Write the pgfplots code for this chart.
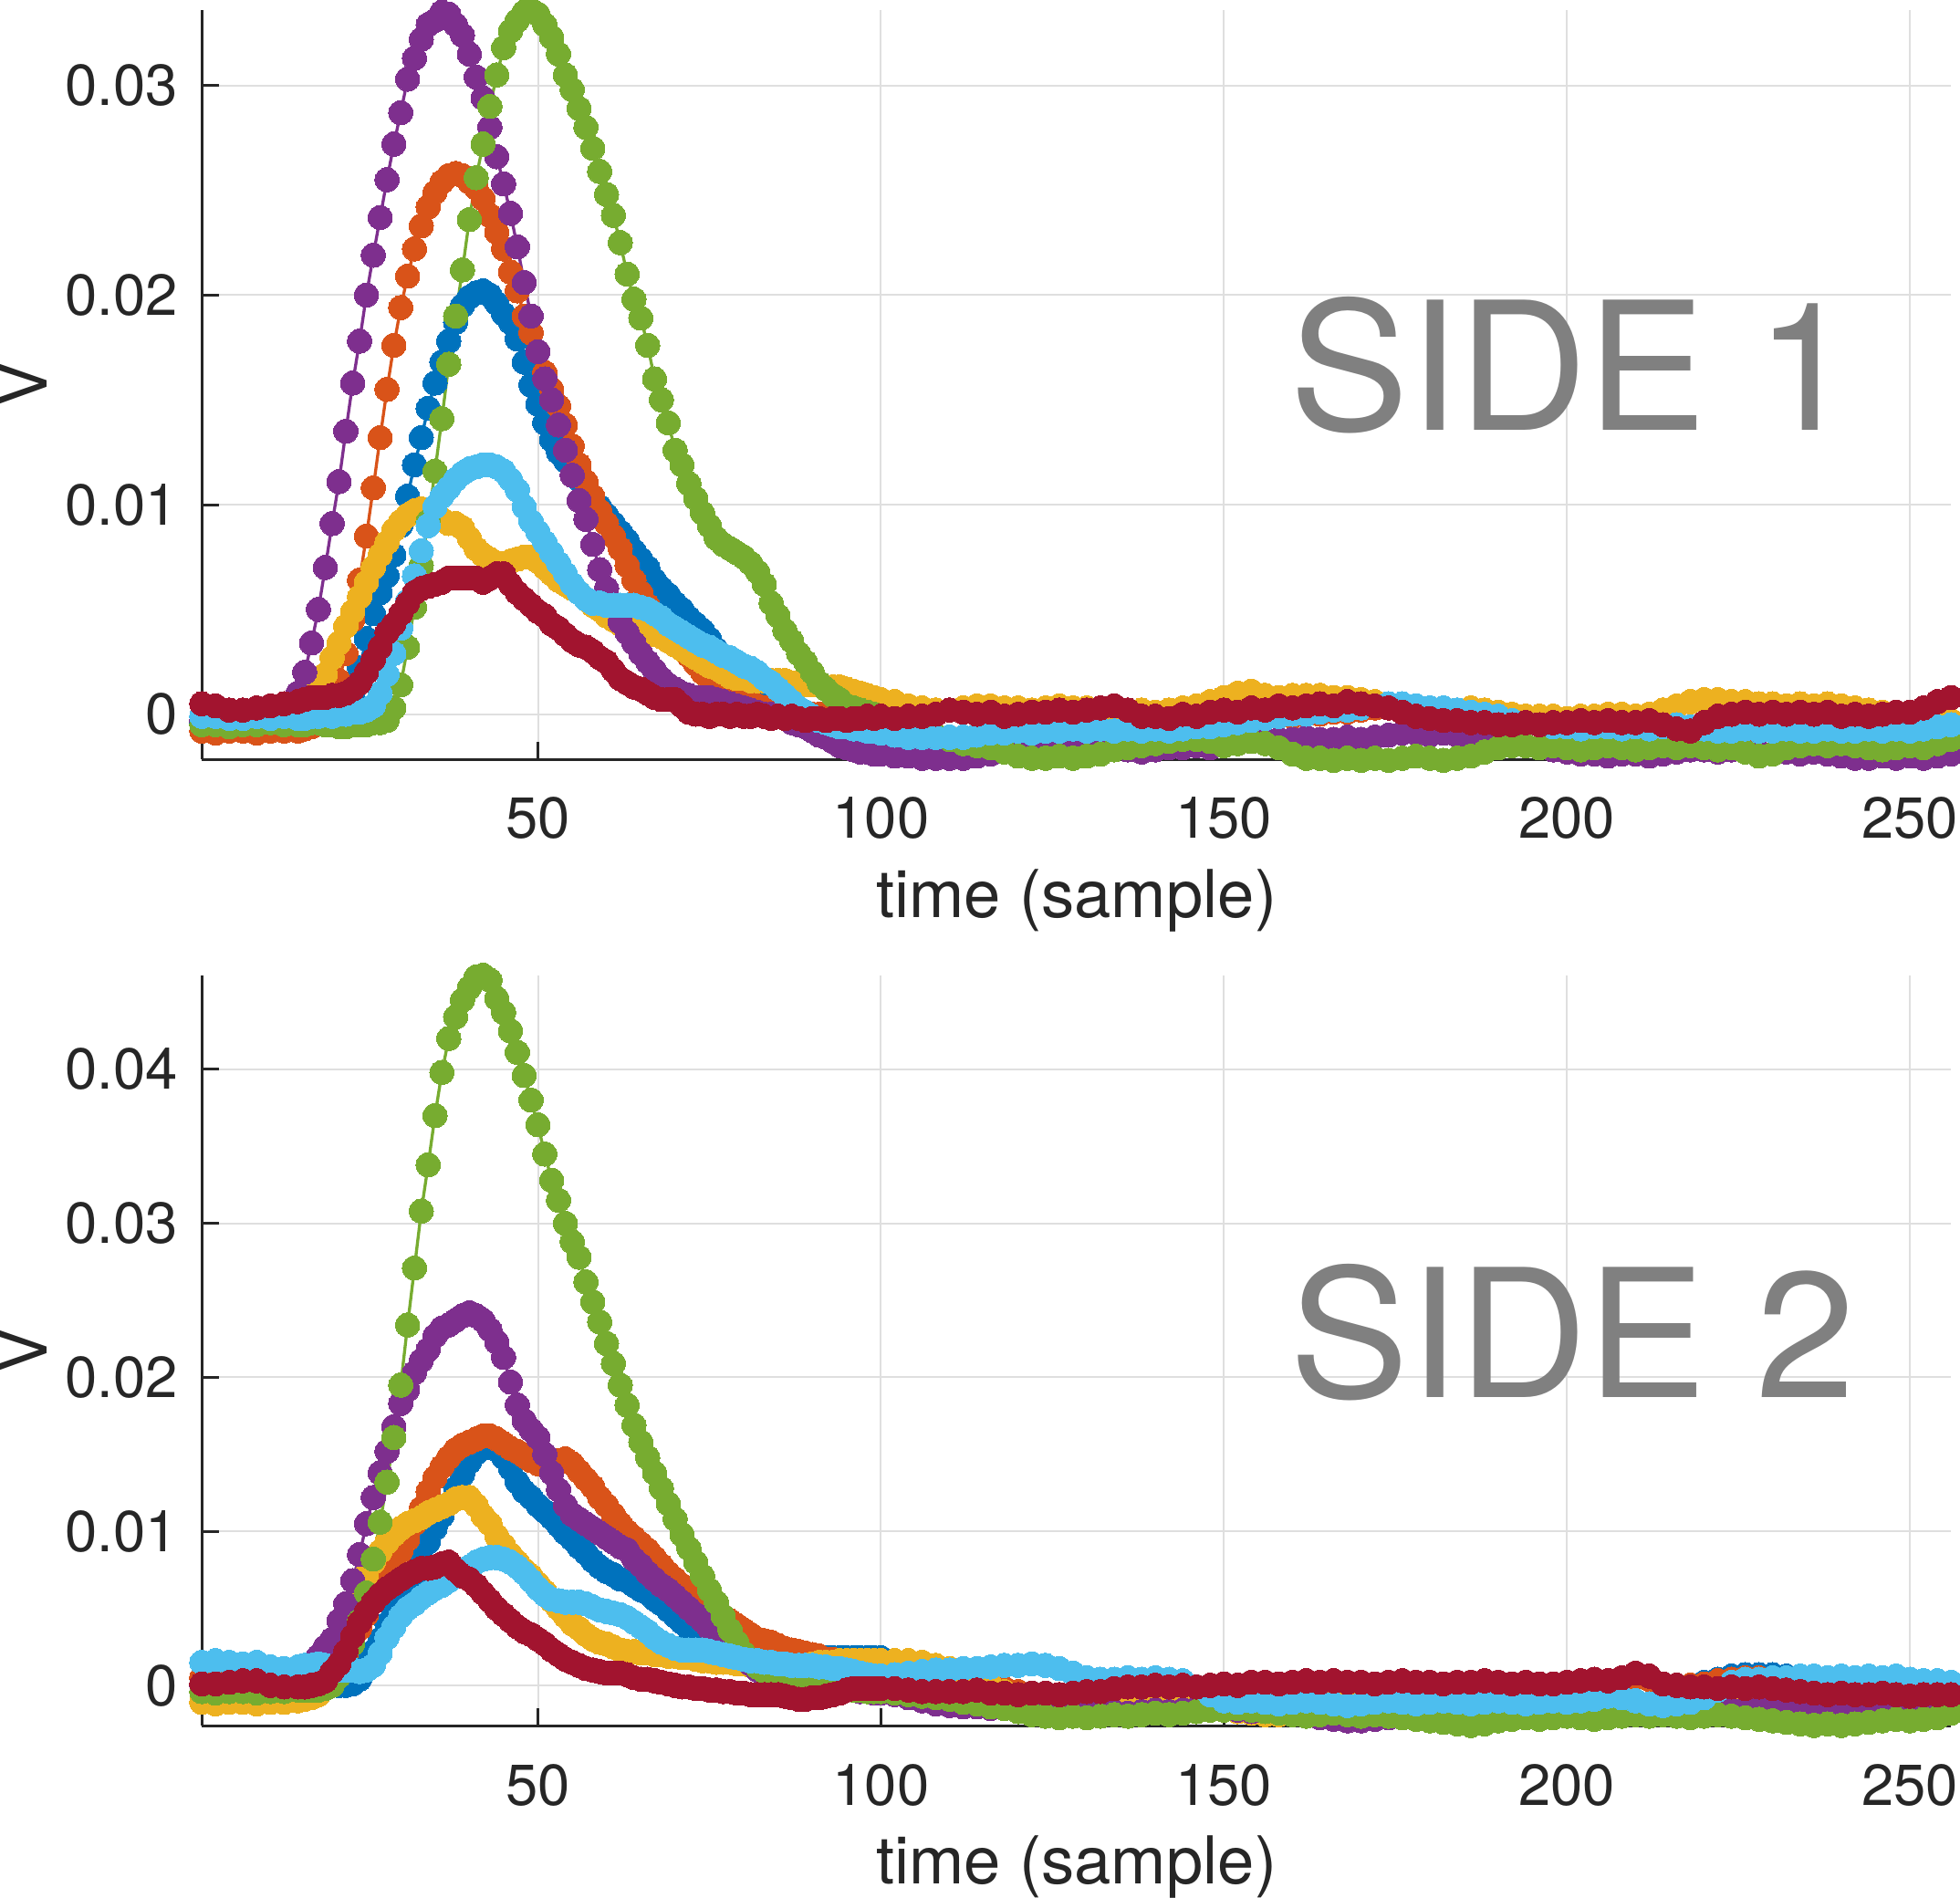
\documentclass[border=0pt]{standalone}
\usepackage{fontspec}
\setmainfont{TeX Gyre Heros}
\usepackage{pgfplots}
\pgfplotsset{compat=1.18}
\definecolor{mblue}{RGB}{0,114,189}
\definecolor{morange}{RGB}{217,83,25}
\definecolor{myellow}{RGB}{237,177,32}
\definecolor{mpurple}{RGB}{126,47,142}
\definecolor{mgreen}{RGB}{119,172,48}
\definecolor{mlblue}{RGB}{77,190,238}
\definecolor{mred}{RGB}{162,20,47}
\definecolor{axgray}{RGB}{38,38,38}
\definecolor{gridgray}{RGB}{223,223,223}
\definecolor{sidegray}{RGB}{128,128,128}
\pgfplotsset{
  dot/.style={color=#1, line width=0.85pt, mark=*, mark size=3.4pt, mark options={line width=0pt, fill=#1, draw=#1}},
  panel/.style={
    scale only axis, width=489.8pt, anchor=south west,
    xmin=1, xmax=256,
    axis x line*=bottom, axis y line*=left,
    axis line style={line width=0.75pt, draw=axgray},
    tick align=inside, major tick length=4.85pt,
    tick style={line width=0.75pt, draw=axgray},
    grid=major, major grid style={line width=0.5pt, draw=gridgray},
    scaled y ticks=false, scaled x ticks=false,
    xtick={50,100,150,200,250}, xticklabels={50,100,150,200,250},
    xticklabel style={font=\fontsize{16.2}{16.2}\selectfont, text=axgray, inner sep=0pt, anchor=north, yshift=-10.5pt},
    yticklabel style={font=\fontsize{16.2}{16.2}\selectfont, text=axgray, inner sep=0pt, anchor=east, xshift=-6.5pt},
    clip=false,
  }
}
\begin{document}
\begin{tikzpicture}
\useasboundingbox (0,0) rectangle (548.8pt,531.2pt);
% ---------------- SIDE 1 ----------------
\begin{axis}[panel, at={(56.5pt,318.6pt)}, height=209.8pt,
  ymin=-0.00215, ymax=0.0336,
  ytick={0,0.01,0.02,0.03}, yticklabels={0,0.01,0.02,0.03}]
\addplot[dot=mblue] coordinates {(1,-0.0004)(3,-0.0004)(5,-0.0005)(7,-0.0004)(9,-0.0004)(11,-0.0004)(13,-0.0003)(15,-0.0004)
(16,-0.0004)(17,-0.0004)(18,-0.0003)(19,-0.0003)(20,-0.0003)(21,-0.0002)(22,0.0002)(23,0.0010)(24,0.0022)(25,0.0036)(26,0.0048)(27,0.0058)(28,0.0066)(29,0.0076)(30,0.0090)
(31,0.0104)(32,0.0119)(33,0.0132)(34,0.0146)(35,0.0158)(36,0.0168)(37,0.0178)(38,0.0187)(39,0.0195)(40,0.0199)
(41,0.0201)(42,0.0202)(43,0.0200)(44,0.0196)(45,0.0191)(46,0.0187)(47,0.0179)(48,0.0168)(49,0.0157)(50,0.0148)
(51,0.0139)(52,0.0131)(53,0.0125)(54,0.0121)(55,0.0117)(56,0.0112)(57,0.0108)(58,0.0103)(59,0.0099)(60,0.0095)
(61,0.0091)(62,0.0087)(63,0.0083)(64,0.0078)(65,0.0074)(66,0.0070)(67,0.0064)(68,0.0060)(69,0.0057)(70,0.0053)
(71,0.0050)(72,0.0046)(73,0.0043)(74,0.0040)(75,0.0036)(76,0.0031)(77,0.0026)(78,0.0019)(79,0.0014)(80,0.0010)
(81,0.0008)(82,0.0007)(83,0.0006)(84,0.0005)(85,0.0003)(86,0.0002)(87,0.0001)(88,0.0001)(89,0.0000)(90,0.0000)
(91,-0.0001)(92,-0.0001)(93,-0.0001)(94,-0.0001)(95,-0.0002)(96,-0.0002)(97,-0.0003)(98,-0.0003)(99,-0.0003)(100,-0.0004)
(102,-0.0006)(104,-0.0008)(106,-0.0010)(108,-0.0011)(110,-0.0011)(112,-0.0011)(114,-0.0010)(116,-0.0010)(118,-0.0009)(120,-0.0009)(122,-0.0009)(124,-0.0009)(126,-0.0008)(128,-0.0008)(130,-0.0008)(132,-0.0008)(134,-0.0008)(136,-0.0008)(138,-0.0008)(140,-0.0008)(142,-0.0008)(144,-0.0007)(146,-0.0007)(148,-0.0006)(150,-0.0005)(152,-0.0004)(154,-0.0003)(156,-0.0002)(158,-0.0001)(160,-0.0001)(162,0.0000)(164,0.0000)(166,0.0001)(168,0.0001)(170,0.0002)(172,0.0003)(174,0.0003)(176,0.0003)(178,0.0003)(180,0.0002)(182,0.0002)(184,0.0001)(186,0.0000)(188,-0.0001)(190,-0.0002)(192,-0.0003)(194,-0.0004)(196,-0.0005)(198,-0.0006)(200,-0.0006)(202,-0.0007)(204,-0.0007)(206,-0.0007)(208,-0.0007)(210,-0.0007)(212,-0.0007)(214,-0.0006)(216,-0.0006)(218,-0.0007)(220,-0.0008)(222,-0.0008)(224,-0.0008)(226,-0.0008)(228,-0.0008)(230,-0.0008)(232,-0.0008)(234,-0.0008)(236,-0.0008)(238,-0.0008)(240,-0.0008)(242,-0.0008)(244,-0.0008)(246,-0.0008)(248,-0.0008)(250,-0.0008)(252,-0.0008)(254,-0.0007)(256,-0.0006)};
\addplot[dot=morange] coordinates {(1,-0.0008)(3,-0.0009)(5,-0.0008)(7,-0.0008)(9,-0.0009)(11,-0.0008)(13,-0.0008)(15,-0.0008)
(16,-0.0007)(17,-0.0006)(18,-0.0004)(19,-0.0001)(20,0.0006)(21,0.0016)(22,0.0029)(23,0.0045)(24,0.0064)(25,0.0085)(26,0.0108)(27,0.0132)(28,0.0155)(29,0.0176)(30,0.0194)
(31,0.0209)(32,0.0222)(33,0.0233)(34,0.0242)(35,0.0249)(36,0.0254)(37,0.0257)(38,0.0258)(39,0.0257)(40,0.0254)
(41,0.0251)(42,0.0246)(43,0.0238)(44,0.0230)(45,0.0222)(46,0.0211)(47,0.0202)(48,0.0190)(49,0.0182)(50,0.0173)
(51,0.0163)(52,0.0155)(53,0.0147)(54,0.0138)(55,0.0128)(56,0.0119)(57,0.0111)(58,0.0104)(59,0.0097)(60,0.0091)
(61,0.0085)(62,0.0079)(63,0.0071)(64,0.0064)(65,0.0058)(66,0.0052)(67,0.0047)(68,0.0042)(69,0.0038)(70,0.0034)
(71,0.0031)(72,0.0028)(73,0.0024)(74,0.0020)(75,0.0017)(76,0.0014)(77,0.0012)(78,0.0010)(79,0.0008)(80,0.0006)
(81,0.0005)(82,0.0004)(83,0.0003)(84,0.0003)(85,0.0002)(86,0.0002)(87,0.0001)(88,0.0001)(89,0.0001)(90,0.0000)
(91,0.0000)(92,0.0000)(93,-0.0001)(94,-0.0001)(95,-0.0001)(96,-0.0002)(97,-0.0002)(98,-0.0002)(99,-0.0003)(100,-0.0003)
(102,-0.0006)(104,-0.0008)(106,-0.0010)(108,-0.0011)(110,-0.0011)(112,-0.0011)(114,-0.0010)(116,-0.0010)(118,-0.0009)(120,-0.0009)(122,-0.0009)(124,-0.0009)(126,-0.0008)(128,-0.0008)(130,-0.0008)(132,-0.0008)(134,-0.0008)(136,-0.0008)(138,-0.0008)(140,-0.0008)(142,-0.0008)(144,-0.0007)(146,-0.0007)(148,-0.0006)(150,-0.0005)(152,-0.0004)(154,-0.0003)(156,-0.0002)(158,-0.0001)(160,-0.0001)(162,0.0000)(164,0.0000)(166,0.0001)(168,0.0001)(170,0.0002)(172,0.0003)(174,0.0003)(176,0.0003)(178,0.0003)(180,0.0002)(182,0.0002)(184,0.0001)(186,0.0000)(188,-0.0001)(190,-0.0002)(192,-0.0003)(194,-0.0004)(196,-0.0005)(198,-0.0006)(200,-0.0006)(202,-0.0007)(204,-0.0007)(206,-0.0007)(208,-0.0007)(210,-0.0007)(212,-0.0007)(214,-0.0006)(216,-0.0006)(218,-0.0007)(220,-0.0008)(222,-0.0008)(224,-0.0008)(226,-0.0008)(228,-0.0008)(230,-0.0008)(232,-0.0008)(234,-0.0008)(236,-0.0008)(238,-0.0008)(240,-0.0008)(242,-0.0008)(244,-0.0008)(246,-0.0008)(248,-0.0008)(250,-0.0008)(252,-0.0008)(254,-0.0007)(256,-0.0006)};
\addplot[dot=myellow] coordinates {(1,-0.0005)(3,-0.0004)(5,-0.0004)(7,-0.0003)(9,-0.0003)(11,-0.0002)(13,-0.0002)(15,0.0000)
(16,0.0003)(17,0.0007)(18,0.0012)(19,0.0019)(20,0.0027)(21,0.0034)(22,0.0042)(23,0.0049)(24,0.0056)(25,0.0063)(26,0.0070)(27,0.0076)(28,0.0082)(29,0.0088)(30,0.0092)
(31,0.0095)(32,0.0097)(33,0.0098)(34,0.0097)(35,0.0095)(36,0.0093)(37,0.0091)(38,0.0091)(39,0.0089)(40,0.0084)
(41,0.0079)(42,0.0076)(43,0.0074)(44,0.0072)(45,0.0072)(46,0.0073)(47,0.0074)(48,0.0075)(49,0.0075)(50,0.0073)
(51,0.0070)(52,0.0067)(53,0.0064)(54,0.0062)(55,0.0060)(56,0.0058)(57,0.0055)(58,0.0052)(59,0.0050)(60,0.0047)
(61,0.0045)(62,0.0043)(63,0.0042)(64,0.0041)(65,0.0041)(66,0.0040)(67,0.0038)(68,0.0037)(69,0.0035)(70,0.0033)
(71,0.0031)(72,0.0029)(73,0.0027)(74,0.0025)(75,0.0023)(76,0.0022)(77,0.0020)(78,0.0018)(79,0.0017)(80,0.0017)
(81,0.0016)(82,0.0016)(83,0.0016)(84,0.0016)(85,0.0016)(86,0.0016)(87,0.0015)(88,0.0015)(89,0.0014)(90,0.0014)
(91,0.0014)(92,0.0013)(93,0.0013)(94,0.0013)(95,0.0012)(96,0.0011)(97,0.0010)(98,0.0009)(99,0.0008)(100,0.0007)
(102,0.0006)(104,0.0004)(106,0.0003)(108,0.0002)(110,0.0002)(112,0.0003)(114,0.0004)(116,0.0004)(118,0.0003)(120,0.0003)(122,0.0002)(124,0.0003)(126,0.0004)(128,0.0003)(130,0.0003)(132,0.0002)(134,0.0003)(136,0.0002)(138,0.0002)(140,0.0001)(142,0.0002)(144,0.0003)(146,0.0004)(148,0.0006)(150,0.0008)(152,0.0010)(154,0.0011)(156,0.0009)(158,0.0008)(160,0.0009)(162,0.0009)(164,0.0009)(166,0.0008)(168,0.0008)(170,0.0007)(172,0.0006)(174,0.0004)(176,0.0003)(178,0.0003)(180,0.0002)(182,0.0003)(184,0.0002)(186,0.0003)(188,0.0002)(190,0.0001)(192,0.0000)(194,-0.0001)(196,-0.0001)(198,-0.0001)(200,-0.0002)(202,-0.0001)(204,-0.0001)(206,0.0000)(208,0.0000)(210,-0.0001)(212,0.0000)(214,0.0002)(216,0.0004)(218,0.0006)(220,0.0007)(222,0.0007)(224,0.0006)(226,0.0006)(228,0.0005)(230,0.0005)(232,0.0004)(234,0.0005)(236,0.0004)(238,0.0005)(240,0.0004)(242,0.0003)(244,0.0002)(246,0.0001)(248,0.0001)(250,0.0000)(252,0.0000)(254,-0.0002)(256,-0.0003)};
\addplot[dot=mpurple] coordinates {(1,-0.0003)(3,-0.0003)(5,-0.0003)(7,-0.0002)(9,-0.0003)(11,-0.0002)(13,0.0000)(14,0.0004)(15,0.0010)
(16,0.0020)(17,0.0034)(18,0.0050)(19,0.0070)(20,0.0091)(21,0.0111)(22,0.0135)(23,0.0158)(24,0.0178)(25,0.0200)(26,0.0219)(27,0.0237)(28,0.0255)(29,0.0272)(30,0.0287)
(31,0.0303)(32,0.0313)(33,0.0322)(34,0.0329)(35,0.0331)(36,0.0335)(37,0.0334)(38,0.0329)(39,0.0324)(40,0.0315)
(41,0.0304)(42,0.0294)(43,0.0280)(44,0.0266)(45,0.0253)(46,0.0239)(47,0.0223)(48,0.0206)(49,0.0190)(50,0.0173)
(51,0.0160)(52,0.0150)(53,0.0138)(54,0.0126)(55,0.0114)(56,0.0102)(57,0.0093)(58,0.0081)(59,0.0069)(60,0.0060)
(61,0.0052)(62,0.0044)(63,0.0039)(64,0.0034)(65,0.0029)(66,0.0025)(67,0.0021)(68,0.0017)(69,0.0014)(70,0.0012)
(71,0.0010)(72,0.0009)(73,0.0008)(74,0.0008)(75,0.0008)(76,0.0007)(77,0.0006)(78,0.0005)(79,0.0004)(80,0.0003)
(81,0.0002)(82,0.0001)(83,0.0000)(84,0.0000)(85,-0.0001)(86,-0.0002)(87,-0.0004)(88,-0.0005)(89,-0.0006)(90,-0.0008)
(91,-0.0010)(92,-0.0011)(93,-0.0013)(94,-0.0015)(95,-0.0016)(96,-0.0017)(97,-0.0018)(98,-0.0018)(99,-0.0019)(100,-0.0019)
(102,-0.0020)(104,-0.0020)(106,-0.0021)(108,-0.0021)(110,-0.0021)(112,-0.0021)(114,-0.0020)(116,-0.0019)(118,-0.0017)(120,-0.0015)(122,-0.0014)(124,-0.0014)(126,-0.0013)(128,-0.0014)(130,-0.0015)(132,-0.0016)(134,-0.0017)(136,-0.0017)(138,-0.0018)(140,-0.0017)(142,-0.0016)(144,-0.0016)(146,-0.0015)(148,-0.0016)(150,-0.0015)(152,-0.0014)(154,-0.0013)(156,-0.0012)(158,-0.0012)(160,-0.0012)(162,-0.0011)(164,-0.0012)(166,-0.0012)(168,-0.0011)(170,-0.0012)(172,-0.0011)(174,-0.0010)(176,-0.0009)(178,-0.0009)(180,-0.0010)(182,-0.0009)(184,-0.0010)(186,-0.0011)(188,-0.0012)(190,-0.0013)(192,-0.0014)(194,-0.0015)(196,-0.0016)(198,-0.0017)(200,-0.0018)(202,-0.0019)(204,-0.0019)(206,-0.0020)(208,-0.0019)(210,-0.0019)(212,-0.0020)(214,-0.0019)(216,-0.0018)(218,-0.0017)(220,-0.0017)(222,-0.0018)(224,-0.0017)(226,-0.0018)(228,-0.0018)(230,-0.0019)(232,-0.0018)(234,-0.0019)(236,-0.0018)(238,-0.0019)(240,-0.0020)(242,-0.0021)(244,-0.0021)(246,-0.0020)(248,-0.0021)(250,-0.0020)(252,-0.0021)(254,-0.0020)(256,-0.0019)};
\addplot[dot=mgreen] coordinates {(1,-0.0005)(3,-0.0005)(5,-0.0006)(7,-0.0005)(9,-0.0005)(11,-0.0004)(13,-0.0005)(15,-0.0005)
(16,-0.0005)(17,-0.0004)(18,-0.0004)(19,-0.0005)(20,-0.0005)(21,-0.0006)(22,-0.0006)(23,-0.0005)(24,-0.0005)(25,-0.0005)(26,-0.0004)(27,-0.0004)(28,-0.0003)(29,0.0003)(30,0.0014)
(31,0.0032)(32,0.0051)(33,0.0071)(34,0.0092)(35,0.0116)(36,0.0141)(37,0.0167)(38,0.0190)(39,0.0212)(40,0.0236)
(41,0.0256)(42,0.0272)(43,0.0290)(44,0.0305)(45,0.0318)(46,0.0326)(47,0.0331)(48,0.0335)(49,0.0336)(50,0.0334)
(51,0.0329)(52,0.0323)(53,0.0315)(54,0.0305)(55,0.0298)(56,0.0289)(57,0.0280)(58,0.0270)(59,0.0259)(60,0.0248)
(61,0.0238)(62,0.0225)(63,0.0210)(64,0.0198)(65,0.0189)(66,0.0176)(67,0.0160)(68,0.0150)(69,0.0139)(70,0.0126)
(71,0.0119)(72,0.0110)(73,0.0103)(74,0.0096)(75,0.0090)(76,0.0084)(77,0.0081)(78,0.0079)(79,0.0077)(80,0.0075)
(81,0.0072)(82,0.0068)(83,0.0062)(84,0.0053)(85,0.0047)(86,0.0040)(87,0.0035)(88,0.0029)(89,0.0025)(90,0.0020)
(91,0.0015)(92,0.0012)(93,0.0009)(94,0.0007)(95,0.0004)(96,0.0003)(97,0.0002)(98,0.0001)(99,0.0000)(100,-0.0001)
(102,-0.0003)(104,-0.0005)(106,-0.0008)(108,-0.0010)(110,-0.0012)(112,-0.0014)(114,-0.0015)(116,-0.0016)(118,-0.0018)(120,-0.0020)(122,-0.0021)(124,-0.0021)(126,-0.0020)(128,-0.0021)(130,-0.0020)(132,-0.0019)(134,-0.0017)(136,-0.0016)(138,-0.0015)(140,-0.0014)(142,-0.0013)(144,-0.0012)(146,-0.0012)(148,-0.0013)(150,-0.0015)(152,-0.0014)(154,-0.0013)(156,-0.0014)(158,-0.0016)(160,-0.0019)(162,-0.0021)(164,-0.0021)(166,-0.0022)(168,-0.0021)(170,-0.0022)(172,-0.0021)(174,-0.0022)(176,-0.0021)(178,-0.0020)(180,-0.0021)(182,-0.0022)(184,-0.0021)(186,-0.0020)(188,-0.0018)(190,-0.0016)(192,-0.0015)(194,-0.0015)(196,-0.0016)(198,-0.0015)(200,-0.0016)(202,-0.0017)(204,-0.0016)(206,-0.0015)(208,-0.0016)(210,-0.0017)(212,-0.0016)(214,-0.0015)(216,-0.0016)(218,-0.0015)(220,-0.0016)(222,-0.0017)(224,-0.0016)(226,-0.0018)(228,-0.0020)(230,-0.0019)(232,-0.0016)(234,-0.0015)(236,-0.0014)(238,-0.0015)(240,-0.0014)(242,-0.0015)(244,-0.0016)(246,-0.0017)(248,-0.0016)(250,-0.0015)(252,-0.0016)(254,-0.0014)(256,-0.0012)};
\addplot[dot=mlblue] coordinates {(1,-0.0001)(3,-0.0001)(5,-0.0002)(7,-0.0002)(9,-0.0001)(11,-0.0002)(13,-0.0001)(15,-0.0002)
(16,-0.0002)(17,-0.0001)(18,-0.0001)(19,0.0000)(20,-0.0001)(21,0.0000)(22,0.0000)(23,0.0001)(24,0.0001)(25,0.0002)(26,0.0004)(27,0.0010)(28,0.0019)(29,0.0029)(30,0.0041)
(31,0.0054)(32,0.0066)(33,0.0078)(34,0.0090)(35,0.0099)(36,0.0104)(37,0.0108)(38,0.0112)(39,0.0115)(40,0.0117)
(41,0.0118)(42,0.0119)(43,0.0119)(44,0.0118)(45,0.0116)(46,0.0112)(47,0.0107)(48,0.0099)(49,0.0092)(50,0.0087)
(51,0.0082)(52,0.0077)(53,0.0072)(54,0.0067)(55,0.0062)(56,0.0058)(57,0.0055)(58,0.0053)(59,0.0053)(60,0.0052)
(61,0.0052)(62,0.0052)(63,0.0052)(64,0.0052)(65,0.0051)(66,0.0050)(67,0.0048)(68,0.0046)(69,0.0043)(70,0.0041)
(71,0.0039)(72,0.0037)(73,0.0035)(74,0.0033)(75,0.0032)(76,0.0030)(77,0.0028)(78,0.0027)(79,0.0025)(80,0.0023)
(81,0.0022)(82,0.0020)(83,0.0017)(84,0.0015)(85,0.0012)(86,0.0009)(87,0.0006)(88,0.0003)(89,0.0001)(90,-0.0001)
(91,-0.0003)(92,-0.0004)(93,-0.0005)(94,-0.0006)(95,-0.0006)(96,-0.0007)(97,-0.0007)(98,-0.0008)(99,-0.0008)(100,-0.0009)
(102,-0.0010)(104,-0.0011)(106,-0.0011)(108,-0.0011)(110,-0.0011)(112,-0.0011)(114,-0.0010)(116,-0.0009)(118,-0.0009)(120,-0.0008)(122,-0.0009)(124,-0.0008)(126,-0.0008)(128,-0.0007)(130,-0.0008)(132,-0.0007)(134,-0.0008)(136,-0.0007)(138,-0.0008)(140,-0.0007)(142,-0.0008)(144,-0.0007)(146,-0.0006)(148,-0.0006)(150,-0.0005)(152,-0.0004)(154,-0.0003)(156,-0.0002)(158,-0.0001)(160,0.0000)(162,0.0000)(164,0.0001)(166,0.0002)(168,0.0002)(170,0.0003)(172,0.0004)(174,0.0005)(176,0.0005)(178,0.0004)(180,0.0003)(182,0.0003)(184,0.0002)(186,0.0001)(188,0.0000)(190,-0.0001)(192,-0.0003)(194,-0.0004)(196,-0.0005)(198,-0.0006)(200,-0.0006)(202,-0.0007)(204,-0.0006)(206,-0.0006)(208,-0.0007)(210,-0.0006)(212,-0.0007)(214,-0.0006)(216,-0.0005)(218,-0.0006)(220,-0.0007)(222,-0.0008)(224,-0.0008)(226,-0.0007)(228,-0.0008)(230,-0.0008)(232,-0.0007)(234,-0.0008)(236,-0.0008)(238,-0.0007)(240,-0.0008)(242,-0.0008)(244,-0.0007)(246,-0.0008)(248,-0.0007)(250,-0.0008)(252,-0.0007)(254,-0.0006)(256,-0.0005)};
\addplot[dot=mred] coordinates {(1,0.0005)(3,0.0004)(5,0.0002)(7,0.0002)(9,0.0003)(11,0.0004)(13,0.0005)(15,0.0006)
(16,0.0007)(17,0.0008)(18,0.0008)(19,0.0008)(20,0.0009)(21,0.0009)(22,0.0010)(23,0.0012)(24,0.0015)(25,0.0020)(26,0.0026)(27,0.0032)(28,0.0039)(29,0.0043)(30,0.0048)
(31,0.0053)(32,0.0058)(33,0.0060)(34,0.0061)(35,0.0062)(36,0.0063)(37,0.0065)(38,0.0065)(39,0.0065)(40,0.0065)
(41,0.0065)(42,0.0063)(43,0.0065)(44,0.0067)(45,0.0067)(46,0.0062)(47,0.0058)(48,0.0055)(49,0.0052)(50,0.0049)
(51,0.0047)(52,0.0043)(53,0.0041)(54,0.0038)(55,0.0035)(56,0.0033)(57,0.0032)(58,0.0030)(59,0.0027)(60,0.0025)
(61,0.0021)(62,0.0017)(63,0.0015)(64,0.0013)(65,0.0012)(66,0.0010)(67,0.0008)(68,0.0007)(69,0.0007)(70,0.0007)
(71,0.0004)(72,0.0001)(73,0.0000)(74,0.0000)(75,-0.0001)(76,0.0000)(77,0.0000)(78,-0.0001)(79,0.0000)(80,-0.0001)
(81,-0.0001)(82,0.0000)(83,-0.0001)(84,-0.0002)(85,-0.0001)(86,-0.0002)(87,-0.0001)(88,-0.0002)(89,-0.0003)(90,-0.0002)
(91,-0.0002)(92,-0.0003)(93,-0.0002)(94,-0.0002)(95,-0.0003)(96,-0.0002)(97,-0.0002)(98,-0.0001)(99,-0.0002)(100,-0.0001)
(102,-0.0002)(104,-0.0001)(106,-0.0001)(108,0.0000)(110,0.0002)(112,0.0001)(114,0.0000)(116,0.0001)(118,-0.0001)(120,0.0000)(122,0.0001)(124,0.0001)(126,0.0002)(128,0.0001)(130,0.0002)(132,0.0003)(134,0.0004)(136,0.0002)(138,-0.0001)(140,-0.0001)(142,-0.0002)(144,0.0000)(146,-0.0001)(148,0.0001)(150,0.0002)(152,0.0001)(154,0.0003)(156,0.0002)(158,0.0004)(160,0.0003)(162,0.0004)(164,0.0005)(166,0.0004)(168,0.0006)(170,0.0005)(172,0.0004)(174,0.0003)(176,0.0001)(178,-0.0001)(180,-0.0002)(182,-0.0003)(184,-0.0003)(186,-0.0004)(188,-0.0004)(190,-0.0005)(192,-0.0005)(194,-0.0004)(196,-0.0005)(198,-0.0004)(200,-0.0004)(202,-0.0003)(204,-0.0004)(206,-0.0003)(208,-0.0004)(210,-0.0004)(212,-0.0003)(214,-0.0005)(216,-0.0007)(218,-0.0008)(220,-0.0004)(222,-0.0001)(224,0.0000)(226,0.0001)(228,0.0000)(230,0.0001)(232,0.0000)(234,0.0001)(236,0.0000)(238,0.0001)(240,-0.0001)(242,0.0000)(244,-0.0001)(246,0.0000)(248,0.0001)(250,0.0001)(252,0.0003)(254,0.0006)(256,0.0008)};
\end{axis}
% ---------------- SIDE 2 ----------------
\begin{axis}[panel, at={(56.5pt,48.0pt)}, height=210.1pt,
  ymin=-0.00262, ymax=0.0461,
  ytick={0,0.01,0.02,0.03,0.04}, yticklabels={0,0.01,0.02,0.03,0.04}]
\addplot[dot=mblue] coordinates {(1,0.0001)(3,0.0002)(5,0.0001)(7,0.0001)(9,0.0000)(11,0.0001)(13,0.0000)(15,0.0001)
(16,0.0001)(17,0.0001)(18,0.0002)(19,0.0001)(20,0.0001)(21,0.0000)(22,0.0000)(23,0.0001)(24,0.0004)(25,0.0014)(26,0.0022)(27,0.0030)(28,0.0040)(29,0.0048)(30,0.0056)
(31,0.0064)(32,0.0071)(33,0.0082)(34,0.0093)(35,0.0102)(36,0.0110)(37,0.0118)(38,0.0128)(39,0.0137)(40,0.0145)
(41,0.0151)(42,0.0154)(43,0.0156)(44,0.0153)(45,0.0148)(46,0.0141)(47,0.0132)(48,0.0126)(49,0.0122)(50,0.0117)
(51,0.0113)(52,0.0109)(53,0.0104)(54,0.0099)(55,0.0095)(56,0.0090)(57,0.0086)(58,0.0081)(59,0.0077)(60,0.0074)
(61,0.0072)(62,0.0069)(63,0.0068)(64,0.0065)(65,0.0062)(66,0.0060)(67,0.0056)(68,0.0053)(69,0.0049)(70,0.0045)
(71,0.0041)(72,0.0037)(73,0.0033)(74,0.0030)(75,0.0027)(76,0.0024)(77,0.0021)(78,0.0019)(79,0.0018)(80,0.0018)
(81,0.0017)(82,0.0017)(83,0.0016)(84,0.0016)(85,0.0016)(86,0.0016)(87,0.0017)(88,0.0017)(89,0.0018)(90,0.0018)
(91,0.0018)(92,0.0018)(93,0.0018)(94,0.0018)(95,0.0018)(96,0.0018)(97,0.0018)(98,0.0018)(99,0.0018)(100,0.0018)
(102,0.0016)(104,0.0012)(106,0.0009)(108,0.0006)(110,0.0004)(112,0.0002)(114,0.0001)(116,0.0000)(118,-0.0002)(120,-0.0004)(122,-0.0005)(124,-0.0005)(126,-0.0006)(128,-0.0005)(130,-0.0004)(132,-0.0004)(134,-0.0002)(136,-0.0001)(138,-0.0001)(140,0.0000)(142,-0.0001)(144,0.0000)(146,-0.0001)(148,0.0000)(150,0.0001)(152,0.0000)(154,0.0002)(156,0.0002)(158,0.0001)(160,0.0002)(162,0.0003)(164,0.0002)(166,0.0003)(168,0.0002)(170,0.0002)(172,0.0001)(174,0.0002)(176,0.0003)(178,0.0002)(180,0.0002)(182,0.0001)(184,0.0002)(186,0.0002)(188,0.0003)(190,0.0002)(192,0.0001)(194,0.0002)(196,0.0001)(198,0.0001)(200,0.0002)(202,0.0003)(204,0.0004)(206,0.0003)(208,0.0004)(210,0.0005)(212,0.0004)(214,0.0001)(216,0.0000)(218,0.0000)(220,0.0002)(222,0.0004)(224,0.0006)(226,0.0007)(228,0.0007)(230,0.0007)(232,0.0006)(234,0.0005)(236,0.0003)(238,0.0001)(240,0.0000)(242,-0.0002)(244,-0.0003)(246,-0.0004)(248,-0.0005)(250,-0.0006)(252,-0.0006)(254,-0.0006)(256,-0.0006)};
\addplot[dot=morange] coordinates {(1,0.0005)(3,0.0004)(5,0.0004)(7,0.0003)(9,0.0004)(11,0.0004)(13,0.0003)(15,0.0004)
(16,0.0004)(17,0.0004)(18,0.0003)(19,0.0004)(20,0.0005)(21,0.0012)(22,0.0020)(23,0.0028)(24,0.0037)(25,0.0046)(26,0.0054)(27,0.0062)(28,0.0070)(29,0.0078)(30,0.0087)
(31,0.0095)(32,0.0105)(33,0.0115)(34,0.0126)(35,0.0135)(36,0.0142)(37,0.0148)(38,0.0153)(39,0.0156)(40,0.0158)
(41,0.0160)(42,0.0162)(43,0.0162)(44,0.0160)(45,0.0157)(46,0.0154)(47,0.0152)(48,0.0149)(49,0.0146)(50,0.0144)
(51,0.0144)(52,0.0145)(53,0.0146)(54,0.0147)(55,0.0144)(56,0.0139)(57,0.0134)(58,0.0129)(59,0.0122)(60,0.0117)
(61,0.0111)(62,0.0105)(63,0.0100)(64,0.0096)(65,0.0092)(66,0.0088)(67,0.0083)(68,0.0078)(69,0.0073)(70,0.0069)
(71,0.0065)(72,0.0061)(73,0.0057)(74,0.0054)(75,0.0050)(76,0.0048)(77,0.0045)(78,0.0042)(79,0.0039)(80,0.0036)
(81,0.0033)(82,0.0030)(83,0.0029)(84,0.0028)(85,0.0026)(86,0.0024)(87,0.0023)(88,0.0022)(89,0.0021)(90,0.0020)
(91,0.0019)(92,0.0017)(93,0.0017)(94,0.0016)(95,0.0015)(96,0.0015)(97,0.0014)(98,0.0014)(99,0.0013)(100,0.0013)
(102,0.0012)(104,0.0011)(106,0.0010)(108,0.0008)(110,0.0006)(112,0.0004)(114,0.0002)(116,0.0000)(118,-0.0002)(120,-0.0004)(122,-0.0005)(124,-0.0005)(126,-0.0006)(128,-0.0005)(130,-0.0004)(132,-0.0004)(134,-0.0002)(136,-0.0001)(138,-0.0001)(140,0.0000)(142,-0.0001)(144,0.0000)(146,-0.0001)(148,0.0000)(150,0.0001)(152,0.0000)(154,0.0002)(156,0.0002)(158,0.0001)(160,0.0002)(162,0.0003)(164,0.0002)(166,0.0003)(168,0.0002)(170,0.0002)(172,0.0001)(174,0.0002)(176,0.0003)(178,0.0002)(180,0.0002)(182,0.0001)(184,0.0002)(186,0.0002)(188,0.0003)(190,0.0002)(192,0.0001)(194,0.0002)(196,0.0001)(198,0.0001)(200,0.0002)(202,0.0003)(204,0.0004)(206,0.0003)(208,0.0004)(210,0.0005)(212,0.0004)(214,0.0001)(216,0.0000)(218,0.0000)(220,0.0001)(222,0.0003)(224,0.0004)(226,0.0005)(228,0.0005)(230,0.0004)(232,0.0003)(234,0.0001)(236,-0.0001)(238,-0.0003)(240,-0.0004)(242,-0.0005)(244,-0.0006)(246,-0.0005)(248,-0.0006)(250,-0.0007)(252,-0.0006)(254,-0.0006)(256,-0.0006)};
\addplot[dot=myellow] coordinates {(1,-0.0011)(3,-0.0012)(5,-0.0011)(7,-0.0011)(9,-0.0012)(11,-0.0011)(13,-0.0011)(15,-0.0010)
(16,-0.0009)(17,-0.0008)(18,-0.0006)(19,-0.0002)(20,0.0008)(21,0.0022)(22,0.0037)(23,0.0052)(24,0.0063)(25,0.0072)(26,0.0080)(27,0.0087)(28,0.0093)(29,0.0098)(30,0.0102)
(31,0.0105)(32,0.0107)(33,0.0109)(34,0.0112)(35,0.0114)(36,0.0116)(37,0.0118)(38,0.0121)(39,0.0122)(40,0.0122)
(41,0.0117)(42,0.0110)(43,0.0105)(44,0.0097)(45,0.0091)(46,0.0085)(47,0.0080)(48,0.0075)(49,0.0071)(50,0.0066)
(51,0.0061)(52,0.0055)(53,0.0050)(54,0.0045)(55,0.0040)(56,0.0037)(57,0.0033)(58,0.0030)(59,0.0028)(60,0.0027)
(61,0.0025)(62,0.0023)(63,0.0022)(64,0.0022)(65,0.0021)(66,0.0021)(67,0.0020)(68,0.0020)(69,0.0019)(70,0.0019)
(71,0.0018)(72,0.0018)(73,0.0017)(74,0.0016)(75,0.0016)(76,0.0015)(77,0.0015)(78,0.0015)(79,0.0014)(80,0.0014)
(81,0.0013)(82,0.0013)(83,0.0012)(84,0.0012)(85,0.0011)(86,0.0011)(87,0.0011)(88,0.0012)(89,0.0013)(90,0.0014)
(91,0.0015)(92,0.0015)(93,0.0015)(94,0.0016)(95,0.0016)(96,0.0016)(97,0.0016)(98,0.0016)(99,0.0016)(100,0.0016)
(102,0.0016)(104,0.0016)(106,0.0015)(108,0.0013)(110,0.0011)(112,0.0008)(114,0.0004)(116,0.0000)(118,-0.0004)(120,-0.0007)(122,-0.0009)(124,-0.0010)(126,-0.0011)(128,-0.0011)(130,-0.0012)(132,-0.0012)(134,-0.0013)(136,-0.0012)(138,-0.0013)(140,-0.0014)(142,-0.0013)(144,-0.0014)(146,-0.0015)(148,-0.0016)(150,-0.0016)(152,-0.0017)(154,-0.0018)(156,-0.0019)(158,-0.0019)(160,-0.0017)(162,-0.0014)(164,-0.0011)(166,-0.0008)(168,-0.0006)(170,-0.0006)(172,-0.0008)(174,-0.0010)(176,-0.0011)(178,-0.0012)(180,-0.0012)(182,-0.0013)(184,-0.0013)(186,-0.0012)(188,-0.0013)(190,-0.0013)(192,-0.0012)(194,-0.0013)(196,-0.0013)(198,-0.0012)(200,-0.0013)(202,-0.0013)(204,-0.0012)(206,-0.0012)(208,-0.0013)(210,-0.0013)(212,-0.0013)(214,-0.0014)(216,-0.0014)(218,-0.0013)(220,-0.0014)(222,-0.0014)(224,-0.0014)(226,-0.0014)(228,-0.0015)(230,-0.0015)(232,-0.0014)(234,-0.0012)(236,-0.0013)(238,-0.0015)(240,-0.0016)(242,-0.0015)(244,-0.0014)(246,-0.0013)(248,-0.0013)(250,-0.0012)(252,-0.0012)(254,-0.0011)(256,-0.0011)};
\addplot[dot=mpurple] coordinates {(1,0.0000)(3,0.0000)(5,0.0001)(7,0.0000)(9,0.0000)(11,-0.0001)(13,0.0000)(15,0.0003)
(16,0.0008)(17,0.0013)(18,0.0019)(19,0.0025)(20,0.0030)(21,0.0042)(22,0.0053)(23,0.0068)(24,0.0085)(25,0.0105)(26,0.0122)(27,0.0138)(28,0.0152)(29,0.0168)(30,0.0183)
(31,0.0192)(32,0.0203)(33,0.0211)(34,0.0218)(35,0.0227)(36,0.0232)(37,0.0234)(38,0.0237)(39,0.0240)(40,0.0242)
(41,0.0240)(42,0.0237)(43,0.0231)(44,0.0223)(45,0.0213)(46,0.0197)(47,0.0182)(48,0.0172)(49,0.0166)(50,0.0161)
(51,0.0150)(52,0.0138)(53,0.0127)(54,0.0117)(55,0.0111)(56,0.0108)(57,0.0105)(58,0.0102)(59,0.0099)(60,0.0096)
(61,0.0093)(62,0.0090)(63,0.0088)(64,0.0082)(65,0.0078)(66,0.0073)(67,0.0069)(68,0.0065)(69,0.0062)(70,0.0058)
(71,0.0054)(72,0.0050)(73,0.0046)(74,0.0042)(75,0.0037)(76,0.0033)(77,0.0029)(78,0.0026)(79,0.0023)(80,0.0018)
(81,0.0014)(82,0.0010)(83,0.0008)(84,0.0006)(85,0.0004)(86,0.0003)(87,0.0002)(88,0.0001)(89,0.0000)(90,0.0000)
(91,-0.0001)(92,-0.0001)(93,-0.0002)(94,-0.0002)(95,-0.0003)(96,-0.0003)(97,-0.0004)(98,-0.0004)(99,-0.0005)(100,-0.0005)
(102,-0.0006)(104,-0.0008)(106,-0.0010)(108,-0.0012)(110,-0.0013)(112,-0.0014)(114,-0.0014)(116,-0.0015)(118,-0.0015)(120,-0.0016)(122,-0.0016)(124,-0.0017)(126,-0.0016)(128,-0.0017)(130,-0.0017)(132,-0.0016)(134,-0.0017)(136,-0.0018)(138,-0.0017)(140,-0.0016)(142,-0.0017)(144,-0.0016)(146,-0.0015)(148,-0.0015)(150,-0.0016)(152,-0.0016)(154,-0.0017)(156,-0.0017)(158,-0.0018)(160,-0.0019)(162,-0.0020)(164,-0.0021)(166,-0.0022)(168,-0.0023)(170,-0.0023)(172,-0.0022)(174,-0.0021)(176,-0.0020)(178,-0.0018)(180,-0.0016)(182,-0.0015)(184,-0.0014)(186,-0.0013)(188,-0.0013)(190,-0.0014)(192,-0.0015)(194,-0.0016)(196,-0.0016)(198,-0.0016)(200,-0.0015)(202,-0.0014)(204,-0.0013)(206,-0.0012)(208,-0.0011)(210,-0.0012)(212,-0.0013)(214,-0.0014)(216,-0.0015)(218,-0.0016)(220,-0.0016)(222,-0.0016)(224,-0.0016)(226,-0.0015)(228,-0.0015)(230,-0.0014)(232,-0.0015)(234,-0.0016)(236,-0.0017)(238,-0.0017)(240,-0.0017)(242,-0.0016)(244,-0.0016)(246,-0.0016)(248,-0.0016)(250,-0.0016)(252,-0.0016)(254,-0.0015)(256,-0.0015)};
\addplot[dot=mgreen] coordinates {(1,-0.0004)(3,-0.0005)(5,-0.0004)(7,-0.0004)(9,-0.0005)(11,-0.0004)(13,-0.0004)(15,-0.0003)
(16,-0.0003)(17,-0.0003)(18,-0.0003)(19,-0.0002)(20,0.0000)(21,0.0006)(22,0.0015)(23,0.0027)(24,0.0042)(25,0.0060)(26,0.0082)(27,0.0106)(28,0.0132)(29,0.0161)(30,0.0195)
(31,0.0234)(32,0.0271)(33,0.0308)(34,0.0338)(35,0.0370)(36,0.0398)(37,0.0420)(38,0.0434)(39,0.0445)(40,0.0453)
(41,0.0460)(42,0.0461)(43,0.0458)(44,0.0446)(45,0.0437)(46,0.0425)(47,0.0411)(48,0.0396)(49,0.0380)(50,0.0364)
(51,0.0345)(52,0.0328)(53,0.0315)(54,0.0300)(55,0.0288)(56,0.0278)(57,0.0262)(58,0.0249)(59,0.0236)(60,0.0222)
(61,0.0209)(62,0.0195)(63,0.0182)(64,0.0169)(65,0.0158)(66,0.0148)(67,0.0138)(68,0.0128)(69,0.0118)(70,0.0108)
(71,0.0098)(72,0.0089)(73,0.0080)(74,0.0071)(75,0.0062)(76,0.0054)(77,0.0045)(78,0.0036)(79,0.0028)(80,0.0021)
(81,0.0016)(82,0.0012)(83,0.0009)(84,0.0006)(85,0.0004)(86,0.0003)(87,0.0001)(88,0.0000)(89,-0.0001)(90,-0.0001)
(91,-0.0001)(92,-0.0002)(93,-0.0002)(94,-0.0002)(95,-0.0003)(96,-0.0003)(97,-0.0003)(98,-0.0004)(99,-0.0004)(100,-0.0004)
(102,-0.0005)(104,-0.0006)(106,-0.0007)(108,-0.0008)(110,-0.0009)(112,-0.0011)(114,-0.0012)(116,-0.0014)(118,-0.0015)(120,-0.0017)(122,-0.0019)(124,-0.0020)(126,-0.0021)(128,-0.0020)(130,-0.0021)(132,-0.0020)(134,-0.0019)(136,-0.0020)(138,-0.0019)(140,-0.0018)(142,-0.0019)(144,-0.0018)(146,-0.0017)(148,-0.0016)(150,-0.0016)(152,-0.0015)(154,-0.0016)(156,-0.0017)(158,-0.0018)(160,-0.0019)(162,-0.0020)(164,-0.0019)(166,-0.0018)(168,-0.0019)(170,-0.0020)(172,-0.0019)(174,-0.0020)(176,-0.0021)(178,-0.0022)(180,-0.0023)(182,-0.0024)(184,-0.0025)(186,-0.0026)(188,-0.0025)(190,-0.0023)(192,-0.0022)(194,-0.0021)(196,-0.0022)(198,-0.0021)(200,-0.0020)(202,-0.0021)(204,-0.0022)(206,-0.0021)(208,-0.0020)(210,-0.0019)(212,-0.0020)(214,-0.0019)(216,-0.0020)(218,-0.0021)(220,-0.0020)(222,-0.0019)(224,-0.0020)(226,-0.0021)(228,-0.0022)(230,-0.0023)(232,-0.0024)(234,-0.0025)(236,-0.0026)(238,-0.0025)(240,-0.0026)(242,-0.0025)(244,-0.0024)(246,-0.0023)(248,-0.0022)(250,-0.0023)(252,-0.0022)(254,-0.0021)(256,-0.0018)};
\addplot[dot=mlblue] coordinates {(1,0.0015)(3,0.0016)(5,0.0015)(7,0.0014)(9,0.0015)(11,0.0012)(13,0.0011)(15,0.0012)
(16,0.0013)(17,0.0013)(18,0.0014)(19,0.0013)(20,0.0012)(21,0.0010)(22,0.0010)(23,0.0010)(24,0.0009)(25,0.0010)(26,0.0013)(27,0.0021)(28,0.0031)(29,0.0038)(30,0.0045)
(31,0.0050)(32,0.0053)(33,0.0057)(34,0.0060)(35,0.0063)(36,0.0065)(37,0.0068)(38,0.0071)(39,0.0074)(40,0.0077)
(41,0.0080)(42,0.0082)(43,0.0083)(44,0.0083)(45,0.0082)(46,0.0080)(47,0.0077)(48,0.0073)(49,0.0068)(50,0.0063)
(51,0.0059)(52,0.0056)(53,0.0055)(54,0.0054)(55,0.0054)(56,0.0054)(57,0.0053)(58,0.0051)(59,0.0049)(60,0.0048)
(61,0.0047)(62,0.0046)(63,0.0044)(64,0.0041)(65,0.0038)(66,0.0035)(67,0.0031)(68,0.0028)(69,0.0026)(70,0.0024)
(71,0.0023)(72,0.0023)(73,0.0023)(74,0.0023)(75,0.0022)(76,0.0021)(77,0.0020)(78,0.0019)(79,0.0018)(80,0.0017)
(81,0.0016)(82,0.0016)(83,0.0015)(84,0.0015)(85,0.0014)(86,0.0014)(87,0.0013)(88,0.0013)(89,0.0013)(90,0.0013)
(91,0.0012)(92,0.0012)(93,0.0011)(94,0.0011)(95,0.0010)(96,0.0009)(97,0.0008)(98,0.0007)(99,0.0006)(100,0.0006)
(102,0.0007)(104,0.0008)(106,0.0009)(108,0.0010)(110,0.0010)(112,0.0011)(114,0.0011)(116,0.0012)(118,0.0013)(120,0.0013)(122,0.0014)(124,0.0013)(126,0.0011)(128,0.0008)(130,0.0005)(132,0.0004)(134,0.0004)(136,0.0005)(138,0.0004)(140,0.0005)(142,0.0004)(144,0.0003)(146,-0.0001)(148,-0.0006)(150,-0.0010)(152,-0.0011)(154,-0.0010)(156,-0.0011)(158,-0.0012)(160,-0.0011)(162,-0.0010)(164,-0.0011)(166,-0.0012)(168,-0.0013)(170,-0.0012)(172,-0.0011)(174,-0.0010)(176,-0.0011)(178,-0.0012)(180,-0.0011)(182,-0.0010)(184,-0.0011)(186,-0.0012)(188,-0.0011)(190,-0.0010)(192,-0.0011)(194,-0.0012)(196,-0.0011)(198,-0.0010)(200,-0.0011)(202,-0.0010)(204,-0.0009)(206,-0.0007)(208,-0.0008)(210,-0.0010)(212,-0.0012)(214,-0.0013)(216,-0.0012)(218,-0.0011)(220,-0.0008)(222,-0.0003)(224,0.0002)(226,0.0004)(228,0.0004)(230,0.0005)(232,0.0005)(234,0.0006)(236,0.0006)(238,0.0005)(240,0.0006)(242,0.0005)(244,0.0006)(246,0.0005)(248,0.0006)(250,0.0004)(252,0.0003)(254,0.0003)(256,0.0002)};
\addplot[dot=mred] coordinates {(1,0.0001)(3,0.0001)(5,0.0002)(7,0.0003)(9,0.0003)(11,0.0000)(13,-0.0001)(15,-0.0001)
(16,-0.0001)(17,0.0000)(18,0.0001)(19,0.0003)(20,0.0009)(21,0.0014)(22,0.0022)(23,0.0032)(24,0.0041)(25,0.0048)(26,0.0054)(27,0.0059)(28,0.0063)(29,0.0066)(30,0.0069)
(31,0.0072)(32,0.0074)(33,0.0076)(34,0.0076)(35,0.0077)(36,0.0079)(37,0.0080)(38,0.0075)(39,0.0071)(40,0.0069)
(41,0.0065)(42,0.0060)(43,0.0055)(44,0.0050)(45,0.0046)(46,0.0042)(47,0.0038)(48,0.0035)(49,0.0033)(50,0.0030)
(51,0.0027)(52,0.0023)(53,0.0020)(54,0.0017)(55,0.0015)(56,0.0013)(57,0.0011)(58,0.0010)(59,0.0009)(60,0.0008)
(61,0.0008)(62,0.0008)(63,0.0007)(64,0.0005)(65,0.0004)(66,0.0004)(67,0.0003)(68,0.0002)(69,0.0001)(70,0.0000)
(71,-0.0001)(72,-0.0001)(73,-0.0002)(74,-0.0002)(75,-0.0003)(76,-0.0003)(77,-0.0004)(78,-0.0004)(79,-0.0005)(80,-0.0005)
(81,-0.0006)(82,-0.0006)(83,-0.0006)(84,-0.0006)(85,-0.0006)(86,-0.0007)(87,-0.0008)(88,-0.0009)(89,-0.0009)(90,-0.0008)
(91,-0.0008)(92,-0.0007)(93,-0.0006)(94,-0.0005)(95,-0.0003)(96,-0.0002)(97,-0.0002)(98,-0.0002)(99,-0.0002)(100,-0.0002)
(102,-0.0002)(104,-0.0003)(106,-0.0004)(108,-0.0004)(110,-0.0004)(112,-0.0004)(114,-0.0003)(116,-0.0005)(118,-0.0005)(120,-0.0006)(122,-0.0005)(124,-0.0005)(126,-0.0006)(128,-0.0005)(130,-0.0004)(132,-0.0004)(134,-0.0002)(136,-0.0001)(138,-0.0001)(140,0.0000)(142,-0.0001)(144,0.0000)(146,-0.0001)(148,0.0000)(150,0.0001)(152,0.0000)(154,0.0002)(156,0.0002)(158,0.0001)(160,0.0002)(162,0.0003)(164,0.0002)(166,0.0003)(168,0.0002)(170,0.0002)(172,0.0001)(174,0.0002)(176,0.0003)(178,0.0002)(180,0.0002)(182,0.0001)(184,0.0002)(186,0.0002)(188,0.0003)(190,0.0002)(192,0.0001)(194,0.0002)(196,0.0001)(198,0.0001)(200,0.0002)(202,0.0003)(204,0.0004)(206,0.0003)(208,0.0005)(210,0.0008)(212,0.0006)(214,0.0001)(216,0.0000)(218,-0.0001)(220,-0.0001)(222,-0.0002)(224,-0.0001)(226,-0.0002)(228,-0.0001)(230,-0.0002)(232,-0.0003)(234,-0.0004)(236,-0.0005)(238,-0.0006)(240,-0.0005)(242,-0.0006)(244,-0.0006)(246,-0.0005)(248,-0.0006)(250,-0.0007)(252,-0.0006)(254,-0.0006)(256,-0.0006)};
\end{axis}
% ---------------- labels ----------------
\begin{scope}[every node/.style={inner sep=0pt, text=axgray, font=\fontsize{18.5}{18.5}\selectfont}]
\node[anchor=base] at (301.4pt,274.4pt) {time (sample)};
\node[anchor=base] at (301.4pt,3.83pt) {time (sample)};
\node[anchor=base, rotate=90] at (13.1pt,423.5pt) {V};
\node[anchor=base, rotate=90] at (13.1pt,153.1pt) {V};
\end{scope}
\node[anchor=base west, inner sep=0pt, text=sidegray, font=\fontsize{50}{50}\selectfont] at (361.0pt,410.7pt) {SIDE 1};
\node[anchor=base west, inner sep=0pt, text=sidegray, font=\fontsize{50}{50}\selectfont] at (361.0pt,140.0pt) {SIDE 2};
\end{tikzpicture}
\end{document}
